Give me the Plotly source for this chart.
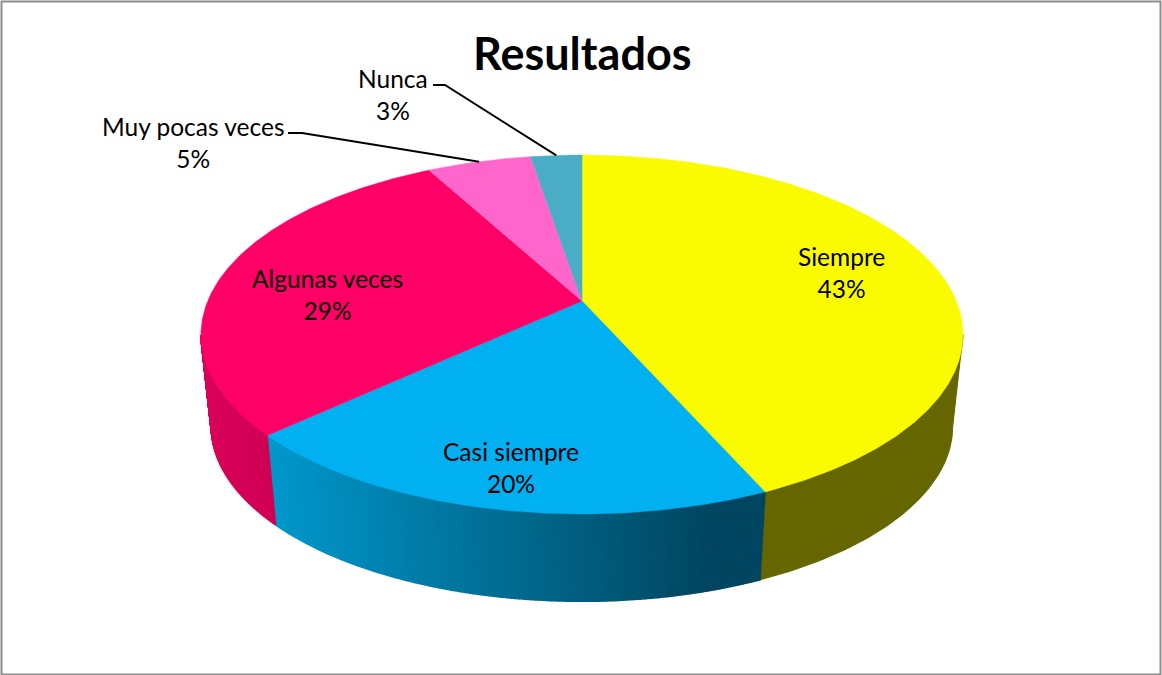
import math
import numpy as np
import plotly.graph_objects as go

# ---- data ----
categories = ["Siempre", "Casi siempre", "Algunas veces", "Muy pocas veces", "Nunca"]
values = [43.4, 19.8, 29.0, 5.3, 2.6]
title_text = "Resultados"

# ---- style ----
top_colors = ["#FBFB00", "#00B0F0", "#FF0066", "#FF66CC", "#4BACC6"]
side_start = ["#666600", "#0098CC", "#DA005A", "#A03080", "#2F7080"]
side_end = ["#666600", "#004660", "#D00056", "#A03080", "#2F7080"]
label_xy = [(841, 272), (511, 467), (327, 294), (193, 142), (393, 94)]
FONT = "Lato"

# ---- projection of the tilted disc onto the page (page pixels) ----
CX, CY = 582.0, 301.0
A, B, P = 374.3, 173.2, 0.1866
SCALE, VY = 0.973, 3750.0


def top_pt(a):
    u, v = np.sin(a), np.cos(a)
    w = 1 + P * v
    return CX + A * u / w, CY - B * v / w


def bottom_pt(a):
    x, y = top_pt(a)
    return CX + (x - CX) * SCALE, VY + (y - VY) * SCALE


def lerp_hex(c1, c2, t):
    a = [int(c1[i:i + 2], 16) for i in (1, 3, 5)]
    b = [int(c2[i:i + 2], 16) for i in (1, 3, 5)]
    return "#%02x%02x%02x" % tuple(round(p + (q - p) * t) for p, q in zip(a, b))


def poly(xs, ys, color, width=1.0):
    return go.Scatter(x=list(xs), y=list(ys), mode="lines", fill="toself", fillcolor=color,
                      line=dict(color=color, width=width), hoverinfo="skip", showlegend=False)


total = sum(values)
edges = [0.0]
for val in values:
    edges.append(edges[-1] + val / total * 2 * math.pi)

fig = go.Figure()

# side walls: only between the two silhouette angles of the projected disc
FRONT_A = math.acos(-P)
FRONT_B = 2 * math.pi - FRONT_A
for i, col in enumerate(top_colors):
    lo, hi = max(edges[i], FRONT_A), min(edges[i + 1], FRONT_B)
    if hi <= lo:
        continue
    bands = 1 if side_start[i] == side_end[i] else 140
    x_left, _ = top_pt(hi)
    x_right, _ = top_pt(lo)
    for b in range(bands):
        a1 = hi - (hi - lo) * b / bands
        a2 = hi - (hi - lo) * (b + 1) / bands
        aa = np.linspace(a1, a2, max(2, int(abs(a2 - a1) * 120)))
        tx, ty = top_pt(aa)
        bx, by = bottom_pt(aa)
        t = min(1.0, (float(tx.mean()) - x_left) / (x_right - x_left) / 0.88)
        fig.add_trace(poly(np.r_[tx, bx[::-1]], np.r_[ty, by[::-1]],
                           lerp_hex(side_start[i], side_end[i], t), width=1.5 if bands > 1 else 1.0))

# top faces
for i, col in enumerate(top_colors):
    aa = np.linspace(edges[i], edges[i + 1], max(8, int((edges[i + 1] - edges[i]) * 120)))
    tx, ty = top_pt(aa)
    fig.add_trace(poly(np.r_[CX, tx, CX], np.r_[CY, ty, CY], col, width=0.5))

# leader lines for the two outside labels
leader_start = {3: [(288, 133), (302, 133)], 4: [(433, 85), (445, 85)]}
for i, pts in leader_start.items():
    mx, my = top_pt((edges[i] + edges[i + 1]) / 2)
    xs = [p[0] for p in pts] + [float(mx)]
    ys = [p[1] for p in pts] + [float(my)]
    fig.add_trace(go.Scatter(x=xs, y=ys, mode="lines", line=dict(color="black", width=2),
                             hoverinfo="skip", showlegend=False))

annotations = []
for name, val, (x, y) in zip(categories, values, label_xy):
    annotations.append(dict(x=x, y=y, xref="x", yref="y", showarrow=False, align="center",
                            text=f"{name}<br>{round(val / total * 100)}%",
                            font=dict(family=FONT, size=24.5, color="black")))
annotations.append(dict(x=582, y=52.5, xref="x", yref="y", showarrow=False,
                        text=f"<b>{title_text}</b>",
                        font=dict(family=FONT, size=45, color="black")))

fig.update_layout(
    width=1162, height=675, autosize=False,
    margin=dict(l=0, r=0, t=0, b=0),
    paper_bgcolor="white", plot_bgcolor="white",
    xaxis=dict(range=[0, 1162], visible=False, fixedrange=True),
    yaxis=dict(range=[675, 0], visible=False, fixedrange=True),
    annotations=annotations,
    shapes=[dict(type="rect", xref="x", yref="y", x0=1.5, y0=1.5, x1=1160.5, y1=674.5,
                 line=dict(color="#8c8c8c", width=2), layer="below")],
)

fig.write_html("out.html", config={"displayModeBar": False},
               post_script="document.body.style.margin='0';document.documentElement.style.overflow='hidden';")
